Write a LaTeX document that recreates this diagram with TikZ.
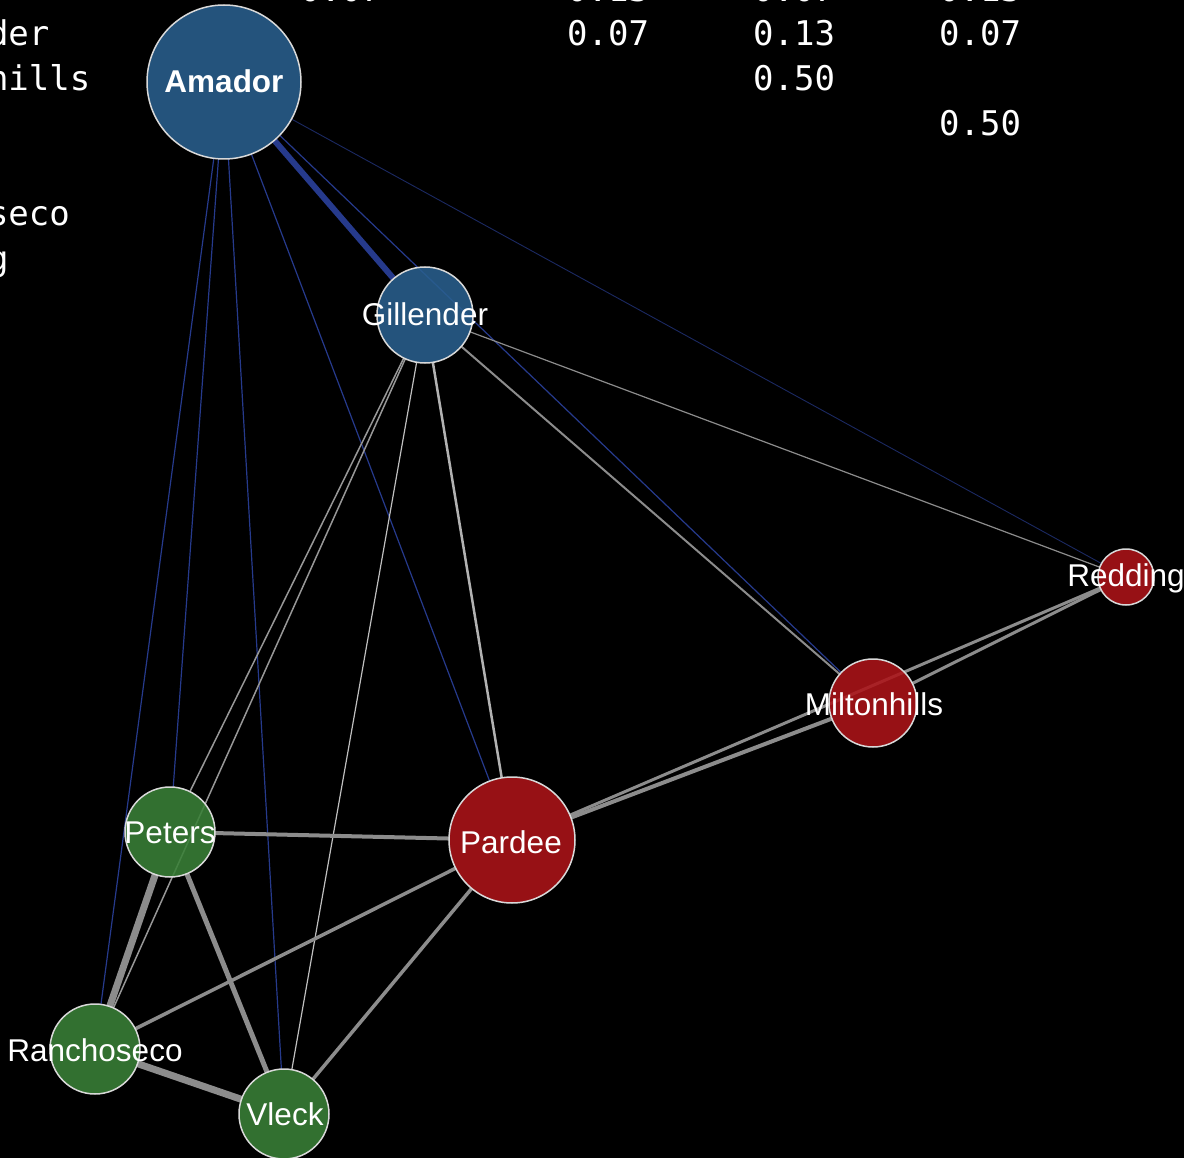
\documentclass[tikz,border=0pt]{standalone}
\usepackage{fontspec}
\setmainfont{Liberation Sans}
\newfontfamily\tabfont{DejaVu Sans Mono}
\usepackage{xcolor}
\usepackage{tikz}
\usetikzlibrary{positioning,backgrounds}

\definecolor{siteblue}{RGB}{41,95,142}
\definecolor{sitered}{RGB}{172,20,25}
\definecolor{sitegreen}{RGB}{57,128,55}
\definecolor{linkblue}{RGB}{38,58,140}
\definecolor{linkgray}{RGB}{140,140,140}

\begin{document}
\begin{tikzpicture}[
    x=1pt, y=-1pt,
    site/.style={draw=white!85!black, circle, line width=1.5pt,
                 inner sep=0pt, outer sep=0pt, fill opacity=0.88},
    lbl/.style={font=\fontsize{31.5}{36}\selectfont, text=white, anchor=base},
    blink/.style={draw=linkblue, line width=1.2pt},
    glink/.style={draw=linkgray, line width=#1},
    glink/.default=2pt,
    cell/.style={font=\tabfont\fontsize{34}{40}\selectfont, text=white,
                 anchor=base west, inner sep=0pt}
]
\useasboundingbox (0,0) rectangle (1184,1158);

% Sites
\node[site, fill=siteblue, minimum size=154pt] (amador) at (224,82) {};
\node[site, fill=siteblue, minimum size=96pt] (gillender) at (425,315) {};
\node[site, fill=sitered, minimum size=56pt] (redding) at (1126,577) {};
\node[site, fill=sitered, minimum size=88pt] (miltonhills) at (873,703) {};
\node[site, fill=sitered, minimum size=126pt] (pardee) at (512,840) {};
\node[site, fill=sitegreen, minimum size=90pt] (peters) at (170,832) {};
\node[site, fill=sitegreen, minimum size=90pt] (ranchoseco) at (95,1049) {};
\node[site, fill=sitegreen, minimum size=90pt] (vleck) at (284,1114) {};

\begin{scope}[on background layer]
\fill[black] (0,0) rectangle (1184,1158);

% Amador links
\draw[blink, line width=6pt] (amador) -- (gillender);
\draw[blink, line width=0.9pt, draw=linkblue!70!black] (amador) -- (redding);
\draw[blink] (amador) -- (miltonhills);
\draw[blink] (amador) -- (pardee);
\draw[blink] (amador) -- (peters);
\draw[blink] (amador) -- (ranchoseco);
\draw[blink] (amador) -- (vleck);

% Gillender links
\draw[glink=1.5pt, draw=linkgray!90!white] (gillender) -- (peters);
\draw[glink=1.5pt, draw=linkgray!90!white] (gillender) -- (ranchoseco);
\draw[glink=1.2pt, draw=white!75!black] (gillender) -- (vleck);
\draw[glink=2.5pt, draw=white!70!black] (gillender) -- (pardee);
\draw[glink=2pt] (gillender) -- (miltonhills);
\draw[glink=1.2pt] (gillender) -- (redding);

% Links between the others
\draw[glink=4pt] (peters) -- (pardee);
\draw[glink=7pt] (peters) -- (ranchoseco);
\draw[glink=5pt] (peters) -- (vleck);
\draw[glink=3.5pt] (ranchoseco) -- (pardee);
\draw[glink=7pt] (ranchoseco) -- (vleck);
\draw[glink=3.5pt] (pardee) -- (vleck);
\draw[glink=4pt] (pardee) -- (miltonhills);
\draw[glink=3pt] (pardee) -- (redding);
\draw[glink=3pt] (miltonhills) -- (redding);
\end{scope}

% Labels
\node[lbl, font=\fontsize{31.5}{36}\selectfont\bfseries] (amador-t) at (224,93) {Amador};
\node[lbl] (gillender-t) at (425,326) {Gillender};
\node[lbl] (redding-t) at (1126,586) {Redding};
\node[lbl] (miltonhills-t) at (874,715) {Miltonhills};
\node[lbl] (pardee-t) at (511,853) {Pardee};
\node[lbl] (peters-t) at (170,843) {Peters};
\node[lbl] (ranchoseco-t) at (95,1061) {Ranchoseco};
\node[lbl] (vleck-t) at (285,1125) {Vleck};

% Table printed behind the graph
\node[cell] (r0c1) at (300,1.5) {0.07};
\node[cell] (r0c2) at (567,1.5) {0.13};
\node[cell] (r0c3) at (753,1.5) {0.07};
\node[cell] (r0c4) at (939,1.5) {0.13};
\node[cell] (r1) at (-135,46) {Gillender};
\node[cell] (r1c2) at (567,46) {0.07};
\node[cell] (r1c3) at (753,46) {0.13};
\node[cell] (r1c4) at (939,46) {0.07};
\node[cell] (r2) at (-135,91) {Miltonhills};
\node[cell] (r2c3) at (753,91) {0.50};
\node[cell] (r3c4) at (939,136) {0.50};
\node[cell] (r5) at (-135,226) {Ranchoseco};
\node[cell] (r6) at (-135,271) {Redding};

\end{tikzpicture}
\end{document}
